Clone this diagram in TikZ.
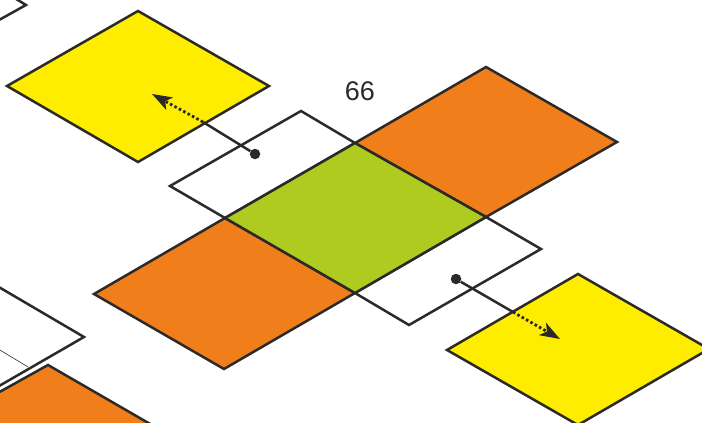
\documentclass[tikz,border=0pt]{standalone}
\usepackage{fontspec}
\setmainfont{Liberation Sans}
\usetikzlibrary{arrows.meta}
\definecolor{gelb}{HTML}{FFED00}
\definecolor{orange}{HTML}{F07F1B}
\definecolor{gruen}{HTML}{AFCB1F}
\definecolor{linie}{HTML}{2B2A29}
\tikzset{
    feld/.style={draw=linie, line width=2.5pt, line join=miter, fill=#1},
    feld/.default=white,
    punkt/.style={circle, fill=linie, inner sep=0pt, minimum size=10.5pt},
    zug/.style={draw=linie, line width=2.5pt},
    punktiert/.style={draw=linie, line width=2.8pt, dash pattern=on 2.6pt off 2.4pt,
        -{Stealth[length=20pt, width=14pt, inset=5pt, sep=0pt]}}
}

\begin{document}
\begin{tikzpicture}[x=1pt, y=-1pt]
    \useasboundingbox (0,0) rectangle (702,423);
    \clip (0,0) rectangle (702,423);
    % neighbours cut off by the edge
    \draw[feld] (-10,25) -- (26,5) -- (8,-6);
    \draw[feld] (-20,276) -- (84,337) -- (-20,397);
    \draw[linie, line width=0.6pt] (-10,344) -- (28,367);
    \draw[feld=orange] (-40,414) -- (48,365) -- (190,447) -- (-40,447) -- cycle;
    % middle
    \draw[feld] (301,111) -- (355,143) -- (225,218) -- (170,186) -- cycle;
    \draw[feld] (486,217) -- (541,249) -- (409,325) -- (355,293) -- cycle;
    \draw[feld=orange] (486,67) -- (617,142) -- (486,217) -- (355,143) -- cycle;
    \draw[feld=orange] (225,218) -- (355,293) -- (224,369) -- (94,294) -- cycle;
    \draw[feld=gruen] (355,143) -- (486,217) -- (355,293) -- (225,218) -- cycle;
    % yellow ones
    \draw[feld=gelb] (138,11) -- (269,86) -- (138,162) -- (7,86) -- cycle;
    \draw[feld=gelb] (578,274) -- (709,349) -- (578,425) -- (447,350) -- cycle;
    \path node[punkt] (PA) at (255,154) {}
        coordinate (QA) at (203,122)
        coordinate (TA) at (152,94)
        node[punkt] (PB) at (456,279) {}
        coordinate (QB) at (513,312)
        coordinate (TB) at (560,339)
        node[font=\fontsize{27}{32}\selectfont, text=linie] (zahl) at (360,91) {66};
    \draw[zug] (PA) -- (QA);
    \draw[punktiert] (QA) -- (TA);
    \draw[zug] (PB) -- (QB);
    \draw[punktiert] (QB) -- (TB);
\end{tikzpicture}
\end{document}
